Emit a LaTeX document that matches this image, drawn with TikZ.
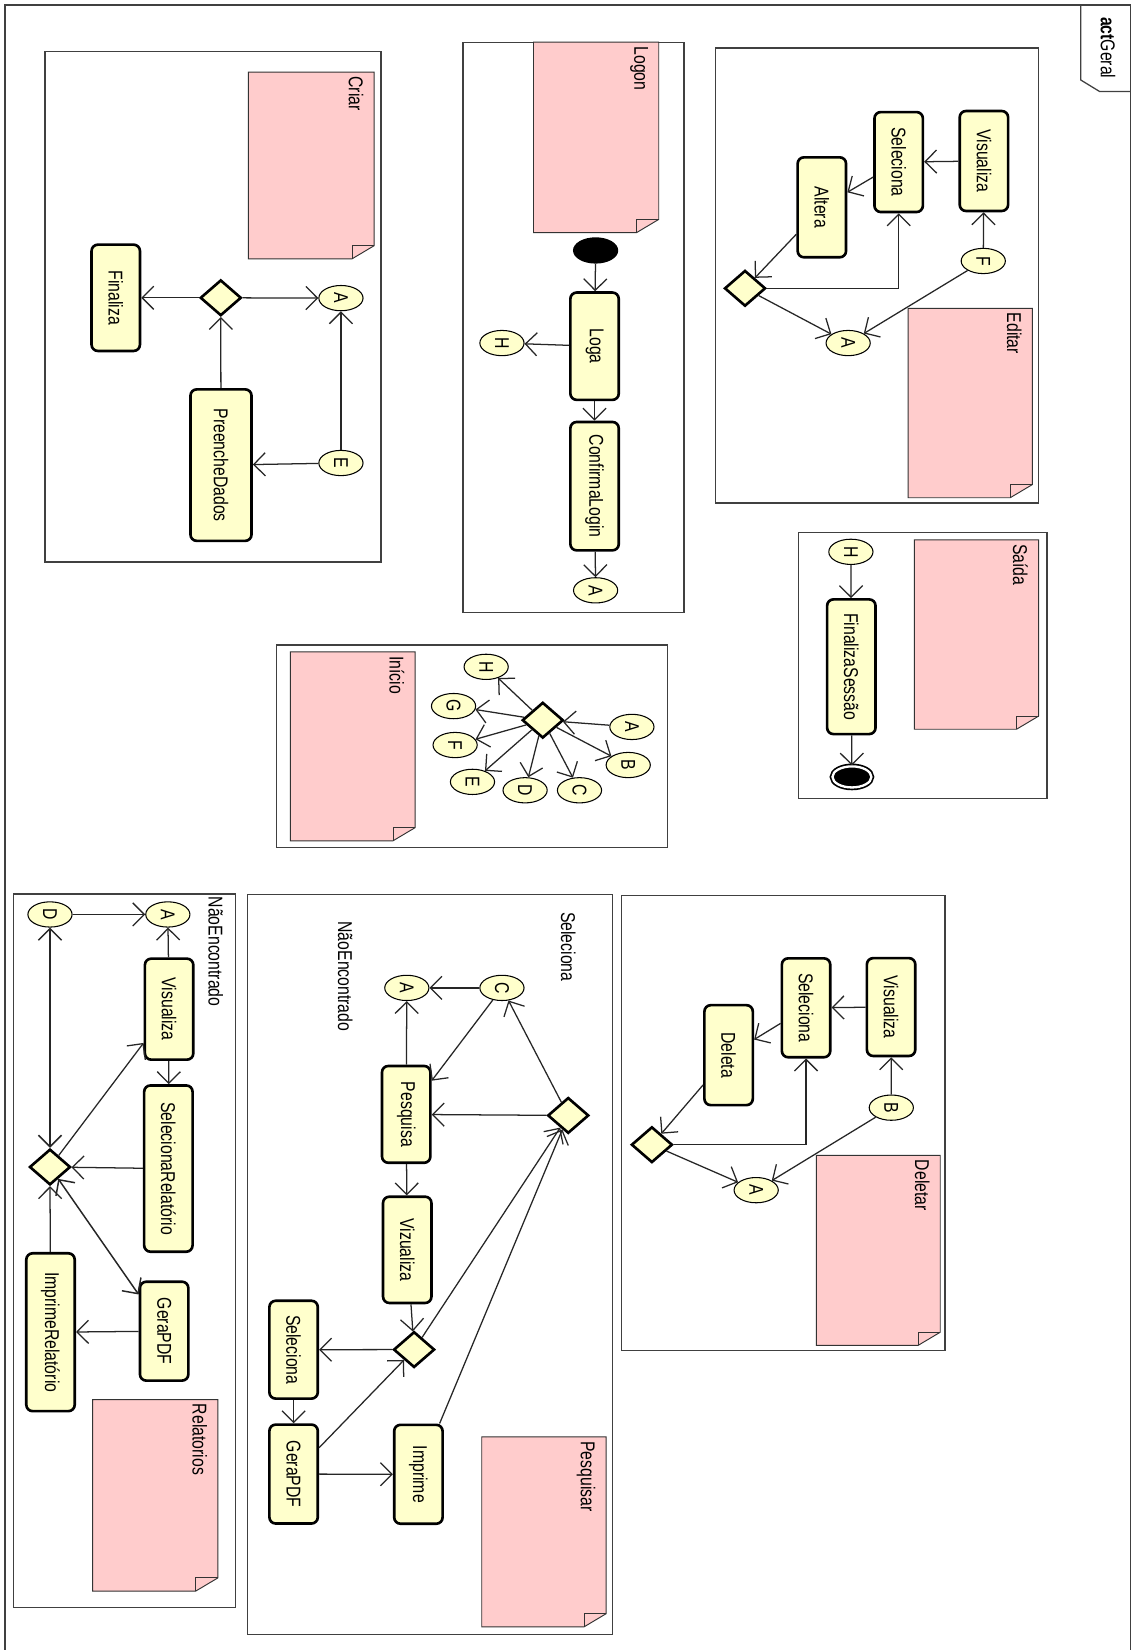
\documentclass[tikz,border=0pt]{standalone}
\usepackage{fontspec}
\setmainfont{Liberation Sans}[FakeStretch=0.79]
\usetikzlibrary{arrows.meta,shapes.geometric}
\definecolor{actfill}{RGB}{255,255,204}
\definecolor{notefill}{RGB}{255,204,204}
\definecolor{framegray}{RGB}{64,64,64}
\newcommand\lblfont{\fontsize{19}{22}\selectfont}
% UML note with the folded corner at the lower right: name, x1, y1, x2, y2, text
\newcommand\umlnote[6]{%
  \draw[notebody] (#2,#3) -- (#4,#3) -- (#4,#5-12.5) -- (#4-21,#5) -- (#2,#5) -- cycle;
  \draw[notebody, fill=none] (#4-21,#5) -- (#4-21,#5-12.5) -- (#4,#5-12.5);
  \node[notelabel] (#1) at (#4-10,#3+4) {#6};
}
\begin{document}
\begin{tikzpicture}[x=1pt,y=-1pt,
  act/.style={rectangle, rounded corners=6pt, draw=black, line width=2.5pt,
    fill=actfill, rotate=-90, inner sep=0pt, minimum height=46pt, font=\lblfont},
  conn/.style={ellipse, draw=black, line width=1pt, fill=actfill, rotate=-90,
    inner sep=0pt, minimum width=24pt, minimum height=42pt, font=\lblfont},
  decision/.style={diamond, draw=black, line width=2.5pt, fill=actfill,
    inner sep=0pt, minimum width=39pt, minimum height=34pt},
  flow/.style={draw=black!85, line width=1.2pt,
    -{Straight Barb[length=11pt,width=22pt]}},
  flowboth/.style={draw=black!85, line width=1.4pt,
    {Straight Barb[length=11pt,width=22pt]}-{Straight Barb[length=11pt,width=22pt]}},
  subframe/.style={draw=framegray, line width=1.1pt},
  notebody/.style={draw=black!80, line width=0.9pt, fill=notefill},
  notelabel/.style={rotate=-90, anchor=north west, inner sep=0pt, font=\lblfont},
  guard/.style={rotate=-90, anchor=west, inner sep=0pt, font=\lblfont},
  startnode/.style={ellipse, fill=black, draw=none, minimum width=43pt, minimum height=25pt, inner sep=0pt},
  endnode/.style={ellipse, fill=black, draw=black, line width=1.6pt, double=white,
    double distance=2.2pt, minimum width=37pt, minimum height=20pt, inner sep=0pt}
]
\useasboundingbox[fill=white] (0,0) rectangle (1076,1568);

% outer activity frame and its name tab
\draw[framegray, line width=1.2pt] (4.75,1580) -- (4.75,4.75) -- (1074,4.75) -- (1074,1580);
\draw[framegray, line width=1.2pt] (1027,4.75) -- (1027,76) -- (1045,87) -- (1074,87);
\node[rotate=-90, anchor=north west, inner sep=0pt, font=\lblfont] (geral) at (1060,16) {\textbf{act}Geral};

% ---------------- Editar ----------------
\draw[subframe] (680,45.6) rectangle (987,478);
\umlnote{editarnote}{863}{293}{981}{473}{Editar}
\node[act, minimum width=95pt] (evis) at (935,153) {Visualiza};
\node[act, minimum width=95pt] (esel) at (854,154) {Seleciona};
\node[act, minimum width=95pt] (ealt) at (781,197) {Altera};
\node[conn] (eF) at (934.4,248) {F};
\node[decision] (edia) at (708,274) {};
\node[conn] (eA) at (806,326) {A};
\draw[flow] (eF) -- (evis);
\draw[flow] (evis) -- (esel);
\draw[flow] (esel) -- (ealt);
\draw[flow] (ealt) -- (edia);
\draw[flow] (edia) -| (esel);
\draw[flow] (edia) -- (eA);
\draw[flow] (eF) -- (eA);

% ---------------- Criar ----------------
\draw[subframe] (42.8,49) rectangle (362,534);
\umlnote{criarnote}{236}{68.5}{355.5}{246}{Criar}
\node[act, minimum width=101pt] (cfin) at (110,283) {Finaliza};
\node[decision] (cdia) at (209.8,283) {};
\node[conn] (cA) at (324,283.3) {A};
\node[act, minimum width=144pt, minimum height=58pt] (cpre) at (210,442) {PreencheDados};
\node[conn] (cE) at (324,440) {E};
\draw[flow] (cE) -- (cpre);
\draw[flow] (cE) -- (cA);
\draw[flow] (cpre) -- (cdia);
\draw[flow] (cdia) -- (cfin);
\draw[flow] (cdia) -- (cA);

% ---------------- Logon ----------------
\draw[subframe] (440,40) rectangle (650,582);
\umlnote{logonnote}{507}{40}{626}{221}{Logon}
\node[startnode] (linit) at (566,238) {};
\node[act, minimum width=102pt] (lloga) at (565,329) {Loga};
\node[conn] (lH) at (477,326) {H};
\node[act, minimum width=122pt] (lconf) at (565,462) {ConfirmaLogin};
\node[conn] (lA) at (566,561) {A};
\draw[flow] (linit) -- (lloga);
\draw[flow] (lloga) -- (lH);
\draw[flow] (lloga) -- (lconf);
\draw[flow] (lconf) -- (lA);

% ---------------- Início ----------------
\draw[subframe] (263,613) rectangle (634,805);
\umlnote{inicionote}{276}{619.5}{394.5}{799}{Início}
\node[decision] (idia) at (515.8,684.4) {};
\node[conn] (iH) at (462,633.7) {H};
\node[conn] (iG) at (431,671) {G};
\node[conn] (iF) at (432.5,708) {F};
\node[conn] (iE) at (449,743) {E};
\node[conn] (iD) at (499,751) {D};
\node[conn] (iC) at (550.7,751) {C};
\node[conn] (iB) at (597,727) {B};
\node[conn] (iA) at (600.5,690.8) {A};
\draw[flow] (iA) -- (idia);
\foreach \t in {iB,iC,iD,iE,iF,iG,iH} \draw[flow] (idia) -- (\t);

% ---------------- Saída ----------------
\draw[subframe] (758.6,506) rectangle (995,758.6);
\umlnote{saidanote}{869}{513}{987}{693}{Saída}
\node[conn] (sH) at (808.6,524.4) {H};
\node[act, minimum width=128pt] (sfin) at (809,633.6) {FinalizaSessão};
\node[endnode] (send) at (809.6,738.3) {};
\draw[flow] (sH) -- (sfin);
\draw[flow] (sfin) -- (send);

% ---------------- Deletar ----------------
\draw[subframe] (591,850.7) rectangle (898,1283);
\umlnote{deletarnote}{775.7}{1098}{893.5}{1278.5}{Deletar}
\node[act, minimum width=93pt] (dvis) at (846.8,957) {Visualiza};
\node[act, minimum width=94pt] (dsel) at (766,957.7) {Seleciona};
\node[act, minimum width=95pt] (ddel) at (692.4,1002.7) {Deleta};
\node[conn] (dB) at (847,1052.6) {B};
\node[decision] (ddia) at (619.5,1087.8) {};
\node[conn] (dA) at (718.6,1131) {A};
\draw[flow] (dB) -- (dvis);
\draw[flow] (dvis) -- (dsel);
\draw[flow] (dsel) -- (ddel);
\draw[flow] (ddel) -- (ddia);
\draw[flow] (ddia) -| (dsel);
\draw[flow] (ddia) -- (dA);
\draw[flow] (dB) -- (dA);

% ---------------- Pesquisar ----------------
\draw[subframe] (235,850) rectangle (582.4,1553);
\umlnote{pesquisarnote}{457.8}{1365.4}{576}{1546}{Pesquisar}
\node[guard] (pguardsel) at (540,866.5) {Seleciona};
\node[guard] (pguardnao) at (328,875.5) {NãoEncontrado};
\node[conn] (pC) at (477,938.8) {C};
\node[conn] (pA) at (386.6,938.8) {A};
\node[act, minimum width=92pt] (ppes) at (386,1059) {Pesquisa};
\node[act, minimum width=101pt] (pviz) at (387,1187.7) {Vizualiza};
\node[decision] (pd1) at (540,1060) {};
\node[decision] (pd2) at (393.5,1282.5) {};
\node[act, minimum width=93pt] (psel) at (279,1282.6) {Seleciona};
\node[act, minimum width=94pt] (pgera) at (279,1400.8) {GeraPDF};
\node[act, minimum width=94pt] (pimp) at (397.6,1401) {Imprime};
\draw[flow] (pC) -- (pA);
\draw[flow] (pC) -- (ppes);
\draw[flow] (ppes) -- (pA);
\draw[flow] (pd1) -- (ppes);
\draw[flow] (pd1) -- (pC);
\draw[flow] (ppes) -- (pviz);
\draw[flow] (pviz) -- (pd2);
\draw[flow] (pd2) -- (pd1);
\draw[flow] (pd2) -- (psel);
\draw[flow] (psel) -- (pgera);
\draw[flow] (pgera) -- (pd2);
\draw[flow] (pgera) -- (pimp);
\draw[flow] (pimp) -- (pd1);

% ---------------- Relatorios ----------------
\draw[subframe] (12.7,849.5) rectangle (224,1527.6);
\umlnote{relatoriosnote}{88}{1330}{207}{1512}{Relatorios}
\node[guard] (rguardnao) at (205,852) {NãoEncontrado};
\node[conn] (rD) at (47.5,869) {D};
\node[conn] (rA) at (159.5,869) {A};
\node[act, minimum width=96pt] (rvis) at (160.7,959) {Visualiza};
\node[act, minimum width=158pt] (rsr) at (160,1110.5) {SelecionaRelatório};
\node[decision] (rdia) at (47.5,1109) {};
\node[act, minimum width=94pt] (rgera) at (156,1265) {GeraPDF};
\node[act, minimum width=150pt] (rimp) at (48,1266) {ImprimeRelatório};
\draw[flow] (rD) -- (rA);
\draw[flow] (rvis) -- (rA);
\draw[flow] (rvis) -- (rsr);
\draw[flow] (rsr) -- (rdia);
\draw[flow] (rdia) -- (rvis);
\draw[flowboth] (rD) -- (rdia);
\draw[flowboth] (rgera) -- (rdia);
\draw[flow] (rgera) -- (rimp);
\draw[flow] (rimp) -- (rdia);
\end{tikzpicture}
\end{document}
